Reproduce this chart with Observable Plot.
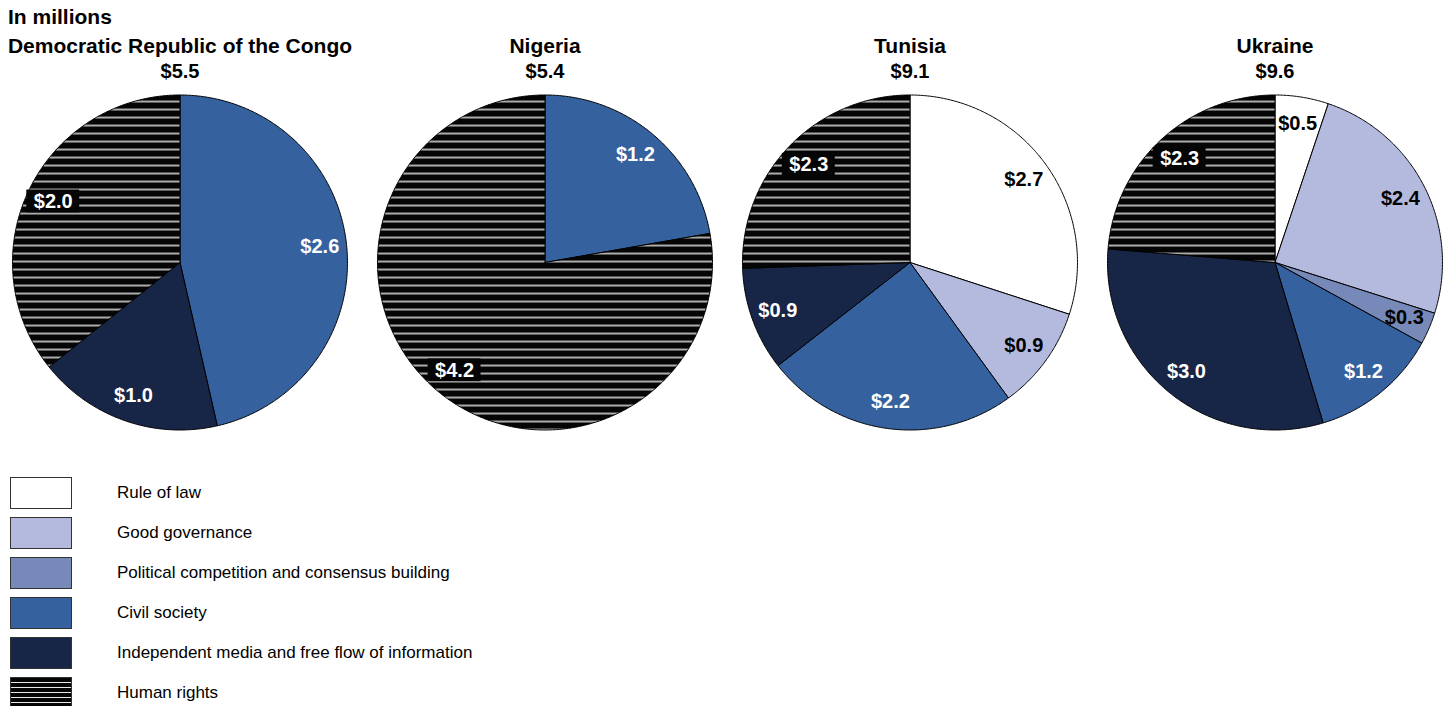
<!DOCTYPE html>
<html>
<head>
<meta charset="utf-8">
<script src="https://cdn.jsdelivr.net/npm/d3@7"></script>
<script src="https://cdn.jsdelivr.net/npm/@observablehq/plot@0.6"></script>
<style>
  html, body { margin: 0; padding: 0; background: #fff; }
  body { width: 1448px; height: 706px; overflow: hidden; position: relative;
         font-family: "Liberation Sans", Arial, Helvetica, sans-serif; color: #000; }
  #unit { position: absolute; left: 8px; top: 5px; font-weight: bold; font-size: 21px; line-height: 23px; }
  #chart { position: absolute; left: 0; top: 28px; }
  #legend { position: absolute; left: 10px; top: 477px; }
  .item { display: flex; align-items: center; height: 32px; margin-bottom: 8px; }
  .sw { width: 60px; height: 30px; border: 1px solid #333; flex: none; }
  .lab { margin-left: 45px; font-size: 17px; }
</style>
</head>
<body>
<svg width="0" height="0" style="position:absolute">
  <defs>
    <pattern id="hr-stripes" patternUnits="userSpaceOnUse" x="0" y="0" width="8" height="8">
      <rect x="0" y="0" width="8" height="8" fill="#050505"></rect>
      <rect x="0" y="0.3" width="8" height="1.5" fill="#e4e4e4"></rect>
    </pattern>
  </defs>
</svg>
<div id="unit">In millions</div>
<div id="chart"></div>
<div id="legend"></div>
<script>
// ---- data ----
const categories = [
  "Rule of law",
  "Good governance",
  "Political competition and consensus building",
  "Civil society",
  "Independent media and free flow of information",
  "Human rights"
];
const categoryColors = ["#ffffff", "#b4bade", "#7789b9", "#35619e", "#172546", "url(#hr-stripes)"];
const countries = ["Democratic Republic of the Congo", "Nigeria", "Tunisia", "Ukraine"];
const totals = ["$5.5", "$5.4", "$9.1", "$9.6"];
const drcValues     = [0,   0,   0,   2.6, 1.0, 2.0];
const nigeriaValues = [0,   0,   0,   1.2, 0,   4.2];
const tunisiaValues = [2.7, 0.9, 0,   2.2, 0.9, 2.3];
const ukraineValues = [0.5, 2.4, 0.3, 1.2, 3.0, 2.3];
const darkCategories = ["Civil society", "Independent media and free flow of information", "Human rights"];

// ---- build tables ----
const seriesByCountry = [drcValues, nigeriaValues, tunisiaValues, ukraineValues];
const slicePoints = [];
const labels = [];
countries.forEach((country, ci) => {
  const arcs = d3.pie().sort(null)(seriesByCountry[ci]);
  arcs.forEach((a, k) => {
    if (!a.value) return;
    const category = categories[k];
    const key = country + "|" + category;
    slicePoints.push({country, category, key, x: 0, y: 0});
    const n = Math.max(2, Math.ceil((a.endAngle - a.startAngle) / (Math.PI / 360)));
    for (let i = 0; i <= n; i++) {
      const t = a.startAngle + (a.endAngle - a.startAngle) * i / n;
      slicePoints.push({country, category, key, x: Math.sin(t), y: Math.cos(t)});
    }
    slicePoints.push({country, category, key, x: 0, y: 0});
    const m = (a.startAngle + a.endAngle) / 2;
    labels.push({
      country, category,
      text: "$" + a.value.toFixed(1),
      x: 0.84 * Math.sin(m), y: 0.84 * Math.cos(m),
      dark: darkCategories.includes(category),
      boxed: category === "Human rights"
    });
  });
});
const titles = countries.map((c, i) => ({country: c, total: totals[i]}));

const boxHalfW = 0.158, boxHalfH = 0.068;
const font = "Liberation Sans, Arial, Helvetica, sans-serif";

const chart = Plot.plot({
  width: 1448,
  height: 440,
  marginLeft: -3,
  marginRight: -9,
  marginTop: 66.5,
  marginBottom: 38.5,
  style: {fontFamily: font, background: "transparent", overflow: "visible"},
  fx: {domain: countries, padding: 0, axis: null},
  x: {domain: [-1.0896, 1.0896], axis: null},
  y: {domain: [-1, 1], axis: null},
  color: {domain: categories, range: categoryColors},
  marks: [
    Plot.line(slicePoints, {
      fx: "country", x: "x", y: "y", z: "key",
      fill: "category", stroke: "#000", strokeWidth: 1, strokeLinejoin: "miter"
    }),
    Plot.rect(labels.filter(d => d.boxed), {
      fx: "country",
      x1: d => d.x - boxHalfW, x2: d => d.x + boxHalfW,
      y1: d => d.y - boxHalfH, y2: d => d.y + boxHalfH,
      fill: "#050505"
    }),
    Plot.text(labels.filter(d => d.dark), {
      fx: "country", x: "x", y: "y", text: "text",
      fill: "white", fontWeight: "bold", fontSize: 20, fontFamily: font
    }),
    Plot.text(labels.filter(d => !d.dark), {
      fx: "country", x: "x", y: "y", text: "text",
      fill: "black", fontWeight: "bold", fontSize: 20, fontFamily: font
    }),
    Plot.text(titles, {
      fx: "country", frameAnchor: "top", text: "country", lineAnchor: "bottom",
      dy: -42.5, fill: "black", fontWeight: "bold", fontSize: 21, fontFamily: font
    }),
    Plot.text(titles, {
      fx: "country", frameAnchor: "top", text: "total", lineAnchor: "bottom",
      dy: -17.5, fill: "black", fontWeight: "bold", fontSize: 20, fontFamily: font
    })
  ]
});
document.getElementById("chart").appendChild(chart);

// ---- legend ----
const legend = document.getElementById("legend");
categories.forEach((c, i) => {
  const item = document.createElement("div");
  item.className = "item";
  const sw = document.createElement("div");
  sw.className = "sw";
  if (c === "Human rights") {
    sw.style.background = "repeating-linear-gradient(to bottom, #050505 0px, #050505 3.8px, #e8e8e8 3.8px, #e8e8e8 5px)";
  } else {
    sw.style.background = categoryColors[i];
  }
  const lab = document.createElement("div");
  lab.className = "lab";
  lab.textContent = c;
  item.appendChild(sw);
  item.appendChild(lab);
  legend.appendChild(item);
});
</script>
</body>
</html>
